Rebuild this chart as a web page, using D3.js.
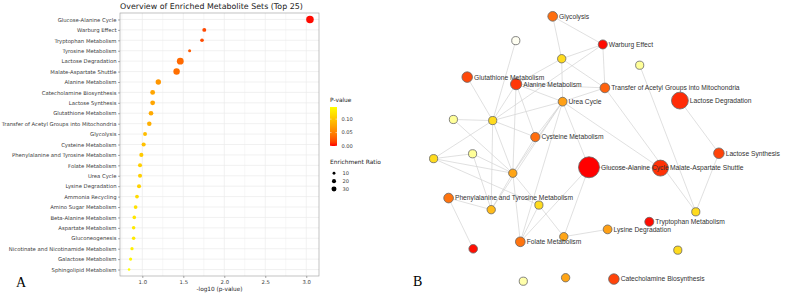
<!DOCTYPE html>
<html>
<head>
<meta charset="utf-8">
<script src="https://cdn.jsdelivr.net/npm/d3@7"></script>
<style>
  body { margin: 0; background: #fff; }
  svg { display: block; }
</style>
</head>
<body>
<div id="chart"></div>
<script>
// ---- panel A data (top 25 enriched sets) ----
const categories = [
  'Glucose-Alanine Cycle', 'Warburg Effect', 'Tryptophan Metabolism', 'Tyrosine Metabolism',
  'Lactose Degradation', 'Malate-Aspartate Shuttle', 'Alanine Metabolism', 'Catecholamine Biosynthesis',
  'Lactose Synthesis', 'Glutathione Metabolism', 'Transfer of Acetyl Groups into Mitochondria',
  'Glycolysis', 'Cysteine Metabolism', 'Phenylalanine and Tyrosine Metabolism', 'Folate Metabolism',
  'Urea Cycle', 'Lysine Degradation', 'Ammonia Recycling', 'Amino Sugar Metabolism',
  'Beta-Alanine Metabolism', 'Aspartate Metabolism', 'Gluconeogenesis',
  'Nicotinate and Nicotinamide Metabolism', 'Galactose Metabolism', 'Sphingolipid Metabolism'
]
const negLogP = [
  3.045, 1.756, 1.728, 1.577, 1.463, 1.418, 1.195, 1.126, 1.126, 1.106, 1.085, 1.033, 1.016,
  0.988, 0.972, 0.972, 0.960, 0.935, 0.918, 0.902, 0.894, 0.894, 0.874, 0.857, 0.838
]
const enrichRatio = [
  69, 19, 16, 11, 56, 50, 35, 28, 28, 26, 25, 19, 21,
  21, 20, 20, 20, 17, 17, 16, 15, 15, 13, 12, 8
]
const xTicks = [1.0, 1.5, 2.0, 2.5, 3.0]
const pTicks = [0.00, 0.05, 0.10]
const sizeTicks = [10, 20, 30]

// ---- panel B data (network, layout units 0-100) ----
const netIds = ['gac', 'war', 'try', 'red1', 'lde', 'mas', 'ala', 'lsy', 'cat', 'glu',
  'tra', 'gly', 'cys', 'phe', 'fol', 'ure', 'lys', 'h', 'l', 'p', 'j',
  'a', 'e', 'f', 'i', 'k', 'n', 'b', 'd', 'g', 'o', 'w']
const netLabels = ['Glucose-Alanine Cycle', 'Warburg Effect', 'Tryptophan Metabolism', '',
  'Lactose Degradation', 'Malate-Aspartate Shuttle', 'Alanine Metabolism', 'Lactose Synthesis',
  'Catecholamine Biosynthesis', 'Glutathione Metabolism', 'Transfer of Acetyl Groups into Mitochondria',
  'Glycolysis', 'Cysteine Metabolism', 'Phenylalanine and Tyrosine Metabolism', 'Folate Metabolism',
  'Urea Cycle', 'Lysine Degradation', '', '', '', '', '', '', '', '', '', '', '', '', '', '', '']
const netLx = [53.0, 57.6, 73.1, 14.4, 83.3, 76.8, 28.7, 96.3, 61.3, 12.4,
  58.3, 40.9, 35.1, 6.2, 30.1, 44.2, 59.2, 27.6, 44.6, 45.2, 20.4,
  43.9, 20.9, 1.2, 36.3, 88.6, 82.6, 69.9, 7.8, 14.2, 31.1, 28.6]
const netLy = [56.4, 10.9, 76.6, 86.6, 31.7, 56.7, 25.6, 51.2, 97.8, 23.0,
  27.0, 0.5, 45.2, 67.8, 84.0, 32.1, 79.4, 58.6, 82.1, 97.3, 72.1,
  16.2, 39.1, 53.2, 70.4, 72.9, 87.1, 18.6, 38.7, 51.4, 98.6, 9.5]
const netP = [0.0, 0.008, 0.01, 0.012, 0.035, 0.04, 0.045, 0.055, 0.055, 0.06,
  0.08, 0.09, 0.09, 0.095, 0.095, 0.135, 0.135, 0.14, 0.14, 0.14, 0.16,
  0.19, 0.19, 0.19, 0.19, 0.19, 0.19, 0.3, 0.3, 0.3, 0.34, 0.5]
const netRatio = [69, 14, 14, 12, 50, 46, 24, 21, 21, 21,
  17, 17, 15, 17, 17, 13, 13, 11, 11, 11, 11,
  11, 10, 10, 10, 10, 10, 10, 10, 10, 10, 10]
const netLinks = [
  ['gly', 'a'], ['gly', 'war'], ['war', 'a'], ['war', 'tra'], ['war', 'e'],
  ['a', 'ure'], ['a', 'tra'], ['a', 'ala'], ['w', 'e'], ['glu', 'e'],
  ['ala', 'e'], ['ala', 'ure'], ['ala', 'cys'], ['ala', 'h'], ['ala', 'tra'],
  ['tra', 'k'], ['b', 'k'], ['tra', 'ure'], ['ure', 'e'], ['ure', 'h'],
  ['ure', 'j'], ['ure', 'fol'], ['ure', 'gac'], ['ure', 'mas'], ['lde', 'lsy'],
  ['lsy', 'k'], ['gac', 'mas'], ['gac', 'fol'], ['gac', 'l'], ['f', 'g'],
  ['f', 'h'], ['f', 'i'], ['f', 'e'], ['g', 'h'], ['g', 'j'],
  ['d', 'e'], ['d', 'h'], ['e', 'h'], ['e', 'j'], ['e', 'cys'],
  ['phe', 'j'], ['phe', 'red1'], ['h', 'j'], ['h', 'fol'], ['h', 'i'],
  ['i', 'fol'], ['i', 'l'], ['l', 'lys'], ['cys', 'h'], ['ure', 'cys']
]

const width = 786
const height = 296

const svg = d3.select('#chart').append('svg')
  .attr('width', width)
  .attr('height', height)
  .style('font-family', '"DejaVu Sans", sans-serif')

svg.append('rect').attr('width', width).attr('height', height).attr('fill', '#fff')

// ================= Panel A =================
const plot = { left: 120, right: 319, top: 13, bottom: 276 }
const rows = categories.map((c, i) => ({
  name: c,
  x: negLogP[i],
  p: Math.pow(10, -negLogP[i]),
  ratio: enrichRatio[i]
}))

const [xMin, xMax] = d3.extent(negLogP)
const pad = (xMax - xMin) * 0.05
const x = d3.scaleLinear()
  .domain([xMin - pad, xMax + pad])
  .range([plot.left, plot.right])

const y = d3.scalePoint()
  .domain(categories)
  .range([plot.top, plot.bottom])
  .padding(0.62)

const maxP = d3.max(rows, d => d.p)
const color = d3.scaleLinear()
  .domain([0, maxP])
  .range(['#ff0000', '#ffff00'])
  .interpolate(d3.interpolateLab)

const size = d3.scaleSqrt()
  .domain([0, 70])
  .range([0, 3.8])

// grid
const grid = svg.append('g')
grid.selectAll('.vg')
  .data(d3.range(0.75, 3.01, 0.25))
  .enter().append('line')
  .attr('x1', d => x(d)).attr('x2', d => x(d))
  .attr('y1', plot.top).attr('y2', plot.bottom)
  .attr('stroke', '#ebebeb')
  .attr('stroke-width', d => xTicks.includes(d) ? 0.7 : 0.4)
grid.selectAll('.hg')
  .data(categories)
  .enter().append('line')
  .attr('x1', plot.left).attr('x2', plot.right)
  .attr('y1', d => y(d)).attr('y2', d => y(d))
  .attr('stroke', '#ebebeb')
  .attr('stroke-width', 0.7)

// points
svg.append('g').selectAll('circle')
  .data(rows)
  .enter().append('circle')
  .attr('cx', d => x(d.x))
  .attr('cy', d => y(d.name))
  .attr('r', d => size(d.ratio))
  .attr('fill', d => color(d.p))

// border
svg.append('rect')
  .attr('x', plot.left).attr('y', plot.top)
  .attr('width', plot.right - plot.left).attr('height', plot.bottom - plot.top)
  .attr('fill', 'none')
  .attr('stroke', '#9a9a9a')
  .attr('stroke-width', 0.6)

// axes
const xAxis = svg.append('g')
  .attr('transform', `translate(0,${plot.bottom})`)
  .call(d3.axisBottom(x).tickValues(xTicks).tickFormat(d3.format('.1f')).tickSize(2).tickPadding(2))
const yAxis = svg.append('g')
  .attr('transform', `translate(${plot.left},0)`)
  .call(d3.axisLeft(y).tickSize(2).tickPadding(1.5))
;[xAxis, yAxis].forEach(a => {
  a.select('.domain').remove()
  a.selectAll('line').attr('stroke', '#555').attr('stroke-width', 0.5)
  a.selectAll('text')
    .attr('fill', '#3a3a3a')
    .style('font-size', '5.3px')
    .style('font-family', '"DejaVu Sans", sans-serif')
})

svg.append('text')
  .attr('x', plot.left)
  .attr('y', 9)
  .style('font-size', '7.9px')
  .attr('fill', '#222')
  .text('Overview of Enriched Metabolite Sets (Top 25)')

svg.append('text')
  .attr('x', (plot.left + plot.right) / 2)
  .attr('y', 291)
  .attr('text-anchor', 'middle')
  .style('font-size', '5.8px')
  .attr('fill', '#222')
  .text('-log10 (p-value)')

svg.append('text')
  .attr('x', 16)
  .attr('y', 287)
  .style('font-family', '"Liberation Serif", "DejaVu Serif", serif')
  .style('font-size', '14px')
  .text('A')

// legend: colour bar
const leg = svg.append('g')
leg.append('text').attr('x', 330).attr('y', 102)
  .style('font-size', '5.9px').attr('fill', '#222').text('P-value')

const barY = d3.scaleLinear().domain([0, maxP]).range([146, 107])
const grad = svg.append('defs').append('linearGradient')
  .attr('id', 'pgrad')
  .attr('x1', 0).attr('y1', 1).attr('x2', 0).attr('y2', 0)
grad.selectAll('stop')
  .data(d3.range(0, 1.001, 0.1))
  .enter().append('stop')
  .attr('offset', d => d)
  .attr('stop-color', d => color(d * maxP))
leg.append('rect')
  .attr('x', 330).attr('y', barY(maxP))
  .attr('width', 7).attr('height', barY(0) - barY(maxP))
  .attr('fill', 'url(#pgrad)')
leg.selectAll('.ptick')
  .data(pTicks)
  .enter().append('g')
  .each(function (d) {
    const g = d3.select(this)
    g.append('line').attr('x1', 330).attr('x2', 331.5).attr('y1', barY(d)).attr('y2', barY(d))
      .attr('stroke', '#fff').attr('stroke-width', 0.5)
    g.append('line').attr('x1', 335.5).attr('x2', 337).attr('y1', barY(d)).attr('y2', barY(d))
      .attr('stroke', '#fff').attr('stroke-width', 0.5)
    g.append('text').attr('x', 341.5).attr('y', barY(d) + 1.8)
      .style('font-size', '5.1px').attr('fill', '#3a3a3a').text(d3.format('.2f')(d))
  })

// legend: size
leg.append('text').attr('x', 330).attr('y', 164.3)
  .style('font-size', '5.9px').attr('fill', '#222').text('Enrichment Ratio')
const sizeY = d3.scalePoint().domain(sizeTicks).range([173.3, 189]).padding(0)
leg.selectAll('.sz')
  .data(sizeTicks)
  .enter().append('g')
  .each(function (d) {
    const g = d3.select(this)
    g.append('circle').attr('cx', 334).attr('cy', sizeY(d)).attr('r', size(d)).attr('fill', '#000')
    g.append('text').attr('x', 342.5).attr('y', sizeY(d) + 1.8)
      .style('font-size', '5.1px').attr('fill', '#3a3a3a').text(d)
  })

// ================= Panel B =================
const nx = d3.scaleLinear().domain([0, 100]).range([430, 730])
const ny = d3.scaleLinear().domain([0, 100]).range([15, 285])
const netColor = d3.scaleLinear()
  .domain([0, 0.1, 0.2, 0.3, 0.5])
  .range(['#ff0000', '#ff7a10', '#ffe620', '#ffff99', '#fffff2'])
const netSize = d3.scaleLinear().domain([0, 70]).range([3.0, 10.6])

const nodes = netIds.map((id, i) => ({
  id, label: netLabels[i], x: nx(netLx[i]), y: ny(netLy[i]),
  p: netP[i], r: netSize(netRatio[i])
}))
const byId = new Map(nodes.map(n => [n.id, n]))

const net = svg.append('g')
net.selectAll('line')
  .data(netLinks)
  .enter().append('line')
  .attr('x1', d => byId.get(d[0]).x).attr('y1', d => byId.get(d[0]).y)
  .attr('x2', d => byId.get(d[1]).x).attr('y2', d => byId.get(d[1]).y)
  .attr('stroke', '#d2d2d2')
  .attr('stroke-width', 0.7)

net.selectAll('circle')
  .data(nodes)
  .enter().append('circle')
  .attr('cx', d => d.x).attr('cy', d => d.y)
  .attr('r', d => d.r)
  .attr('fill', d => netColor(d.p))
  .attr('stroke', '#666')
  .attr('stroke-width', 0.8)

net.selectAll('text')
  .data(nodes.filter(d => d.label))
  .enter().append('text')
  .attr('x', d => d.x + d.r + 1.5)
  .attr('y', d => d.y + 2.4)
  .style('font-family', '"Liberation Sans", Arial, sans-serif')
  .style('font-size', '6.7px')
  .attr('fill', '#333')
  .text(d => d.label)

svg.append('text')
  .attr('x', 413)
  .attr('y', 286)
  .style('font-family', '"Liberation Serif", "DejaVu Serif", serif')
  .style('font-size', '14px')
  .text('B')
</script>
</body>
</html>
